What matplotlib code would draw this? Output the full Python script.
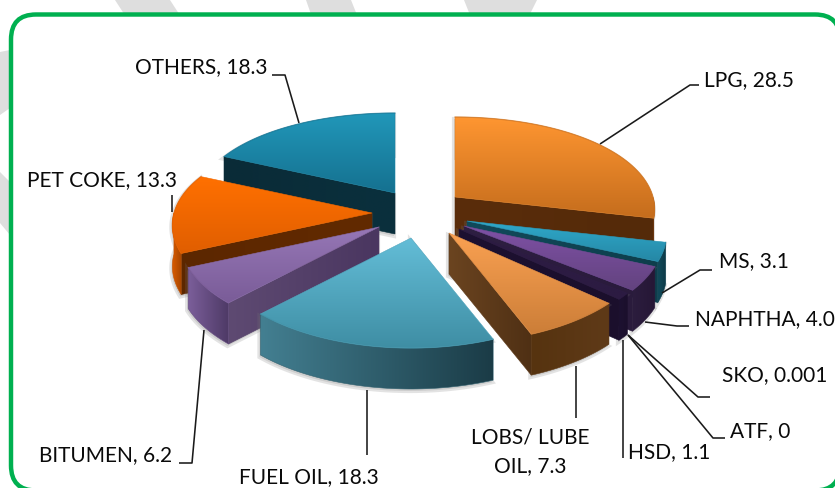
import numpy as np
import matplotlib
matplotlib.use('Agg')
import matplotlib.pyplot as plt
from matplotlib.colors import to_rgb
from matplotlib.patches import Polygon, FancyBboxPatch

names = ['LPG', 'MS', 'NAPHTHA', 'SKO', 'ATF', 'HSD', 'LOBS', 'FUEL OIL', 'BITUMEN', 'PET COKE', 'OTHERS']
values = [28.5, 3.1, 4.0, 0.001, 0, 1.1, 7.3, 18.3, 6.2, 13.3, 18.3]
value_text = ['28.5', '3.1', '4.0', '0.001', '0', '1.1', '7.3', '18.3', '6.2', '13.3', '18.3']

# where each exploded slice has its tip, in pixels
tips = [(455, 197), (467, 221), (464, 226), (459, 229), (459, 229), (459, 229),
        (449, 233), (411, 238), (379, 227), (372, 213), (395, 193)]
draw_order = [10, 0, 9, 1, 2, 3, 4, 5, 8, 6, 7]

top_colors = [('#FF9631', '#C56D1D'), ('#2FA9CA', '#2587A5'), ('#7F51A6', '#63437F'),
              ('#2A1A40', '#2A1A40'), ('#2A1A40', '#2A1A40'), ('#2C1B42', '#2C1B42'),
              ('#FAA152', '#CC7E38'), ('#63BDD7', '#3F8EA4'), ('#9677B6', '#7A5C98'),
              ('#FF7000', '#E05E00'), ('#2197B9', '#157190')]
side_colors = [('#5A2D0B', '#542A09'), ('#114A5B', '#0E3E4C'), ('#2E1F42', '#2A1B3C'),
               ('#1B1030', '#1B1030'), ('#1B1030', '#1B1030'), ('#1D1131', '#1B0F2C'),
               ('#6B4420', '#4F3014'), ('#437F91', '#1B3C47'), ('#4A3660', '#5E4A72'),
               ('#622A00', '#5C2700'), ('#0A303D', '#0A2B37')]
outer_colors = [('#7A3E10', '#5A2D0B'), ('#114A5B', '#0E3A47'), ('#2C1D3E', '#261736'),
                ('#1B1030', '#1B1030'), ('#1B1030', '#1B1030'), ('#1D1131', '#1B0F2C'),
                ('#56330F', '#5F3A18'), ('#437F91', '#1B3C47'), ('#7B5E9A', '#4E3A66'),
                ('#DB5C00', '#A84600'), ('#0A303D', '#0A2B37')]

height = 41
rx = 198
ry = 95


def offset(theta):
    t = np.radians(theta)
    s, c = np.sin(t), np.cos(t)
    return rx * s * (1 - 0.13 * c), -(ry - 15 * c) * c


def grad_fill(ax, xy, c1, c2, vertical, z):
    xy = np.asarray(xy)
    x0, y0 = xy.min(axis=0)
    x1, y1 = xy.max(axis=0)
    if x1 - x0 < 0.5 or y1 - y0 < 0.5:
        return
    f = np.linspace(0, 1, 80)[:, None]
    arr = (1 - f) * np.array(to_rgb(c1)) + f * np.array(to_rgb(c2))
    arr = arr[:, None, :] if vertical else arr[None, :, :]
    mid = tuple((np.array(to_rgb(c1)) + np.array(to_rgb(c2))) / 2)
    edge = Polygon(xy, closed=True, fc='none', ec=mid, lw=0.4, zorder=z + 0.2)
    ax.add_patch(edge)
    clip = Polygon(xy, closed=True, transform=ax.transData)
    im = ax.imshow(arr, extent=(x0, x1, y1, y0), aspect='auto', zorder=z, interpolation='bilinear')
    im.set_clip_path(clip)


fig = plt.figure(figsize=(8.35, 4.88), dpi=100)
ax = fig.add_axes([0, 0, 1, 1])

# grey watermark stripes behind the frame
bands = [[(115, 0), (170, 0), (183, 20), (128, 20)],
         [(306, 0), (351, 0), (359, 20), (313, 20)],
         [(464, 0), (537, 0), (527, 20), (472, 20)],
         [(0, 52), (10, 50), (10, 108), (0, 115)],
         [(0, 172), (10, 182), (10, 235), (0, 223)]]
for b in bands:
    ax.add_patch(Polygon(b, closed=True, fc='#DEDEDE', ec='none', zorder=0))

ax.add_patch(FancyBboxPatch((36, 39.5), 779, 426, boxstyle='round,pad=25,rounding_size=25',
                            fc='white', ec='#00B050', lw=3.2, zorder=1))

edges = 360 * np.cumsum([0] + values) / sum(values)
z = 3
for i in draw_order:
    if values[i] < 0.01:
        continue
    t1, t2 = edges[i], edges[i + 1]
    tx, ty = tips[i]
    ang = np.linspace(t1, t2, 60)
    ox, oy = offset(ang)
    arc = np.column_stack([tx + ox, ty + oy])
    top = np.vstack([[tx, ty], arc])
    down = np.array([0, height])

    # soft shadow round the whole block
    hull = np.vstack([top, arc[::-1] + down, [[tx, ty + height]]])
    ax.add_patch(Polygon(hull + [-1, 2], closed=True, fc='#777777', ec='#777777', lw=3, alpha=0.2, zorder=z))
    z += 1

    # the flat wall that faces us
    if np.sin(np.radians(t1)) < 0:
        p = arc[0]
        wall = [(tx, ty), p, p + down, (tx, ty + height)]
        grad_fill(ax, wall, side_colors[i][1], side_colors[i][0], False, z)
        z += 1
    if np.sin(np.radians(t2)) > 0:
        p = arc[-1]
        wall = [(tx, ty), p, p + down, (tx, ty + height)]
        grad_fill(ax, wall, side_colors[i][0], side_colors[i][1], False, z)
        z += 1

    # rim, only the part on the near side of the pie
    front = (ang >= 90) & (ang <= 270)
    if front.sum() > 1:
        rim = arc[front]
        rim_poly = np.vstack([rim, rim[::-1] + down])
        grad_fill(ax, rim_poly, outer_colors[i][0], outer_colors[i][1], False, z)
        z += 1

    grad_fill(ax, top, top_colors[i][0], top_colors[i][1], True, z)
    z += 1
    ax.plot(arc[:, 0], arc[:, 1], color=top_colors[i][1], lw=0.9, alpha=0.5, zorder=z)
    z += 1

# leader lines and label places, same order as names
leaders = [[(600, 144), (690, 85), (699, 85)],
           [(662, 293), (700, 270), (712, 270)],
           [(645, 322), (677, 326), (689, 326)],
           [(628, 335), (698, 397), (710, 397)],
           [(628, 335), (713, 438), (725, 438)],
           [(623, 340), (623, 458)],
           [(576, 366), (576, 418)],
           [(367, 390), (367, 455)],
           [(204, 330), (192, 463), (179, 463)],
           [(172, 195), (172, 212)],
           [(272, 75), (285, 75), (299, 123)]]
label_pos = [(704, 80), (719, 261), (695, 319), (722, 375), (730, 431), (628, 452),
             (530, 452), (239, 477), (39, 455), (27, 180), (135, 67)]

for line in leaders:
    xs, ys = zip(*line)
    ax.plot(xs, ys, color='#1A1A1A', lw=1.15, zorder=z, solid_capstyle='butt')

for i, name in enumerate(names):
    label = f'{name}, {value_text[i]}'
    if name == 'LOBS':
        label = f'LOBS/ LUBE\nOIL, {value_text[i]}'
        ax.text(*label_pos[i], label, ha='center', va='center', family='Lato', fontsize=15,
                color='#0A0A0A', linespacing=1.5, zorder=z + 1)
    else:
        ax.text(*label_pos[i], label, ha='left', va='center', family='Lato', fontsize=15,
                color='#0A0A0A', zorder=z + 1)

ax.set_xlim(0, 835)
ax.set_ylim(488, 0)
ax.set_aspect('auto')
ax.axis('off')

fig.savefig('out.png', dpi=100)
